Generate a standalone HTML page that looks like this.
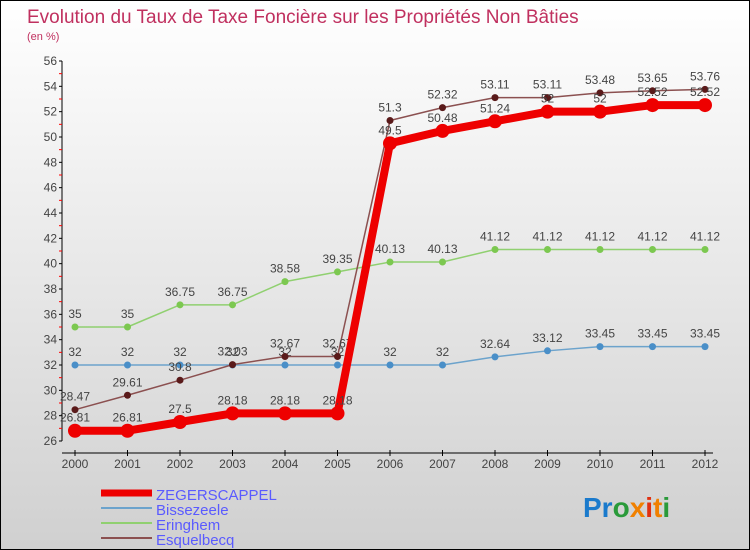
<!DOCTYPE html>
<html><head><meta charset="utf-8"><style>
body{margin:0}
#c{position:relative;width:748px;height:548px;border:1px solid #000;background:linear-gradient(#fff,#d0d0d0);font-family:"Liberation Sans",sans-serif;overflow:hidden}
</style></head><body>
<div id="c">
<svg id="s" width="748" height="548" xmlns="http://www.w3.org/2000/svg">
<text x="26" y="22" font-size="19" fill="#c0305f">Evolution du Taux de Taxe Foncière sur les Propriétés Non Bâties</text>
<text x="26" y="39" font-size="11" fill="#c0305f">(en %)</text>
<g id="axes"></g><g id="series"></g>
<g>
<line x1="100" y1="492" x2="151" y2="492" stroke="#e00" stroke-width="7"/>
<text x="155" y="499" font-size="15" fill="#5a5aff">ZEGERSCAPPEL</text>
<line x1="100" y1="507" x2="151" y2="507" stroke="#6ca3cc" stroke-width="2"/>
<text x="155" y="514" font-size="15" fill="#5a5aff">Bissezeele</text>
<line x1="100" y1="522" x2="151" y2="522" stroke="#90d070" stroke-width="2"/>
<text x="155" y="529" font-size="15" fill="#5a5aff">Eringhem</text>
<line x1="100" y1="537" x2="151" y2="537" stroke="#8b5050" stroke-width="2"/>
<text x="155" y="544" font-size="15" fill="#5a5aff">Esquelbecq</text>
</g>
<text x="582" y="516" font-size="28" font-weight="bold"><tspan fill="#1a7acc">Pr</tspan><tspan fill="#2a9a3a">o</tspan><tspan fill="#f08000">x</tspan><tspan fill="#e03010">i</tspan><tspan fill="#f08000">t</tspan><tspan fill="#2a9a3a">i</tspan></text>
</svg>
</div>
<script>
const years=[2000,2001,2002,2003,2004,2005,2006,2007,2008,2009,2010,2011,2012];
const yTicks=[26,28,30,32,34,36,38,40,42,44,46,48,50,52,54,56];
const zeg=[26.81,26.81,27.5,28.18,28.18,28.18,49.5,50.48,51.24,52,52,52.52,52.52];
const bis=[32,32,32,32,32,32,32,32,32.64,33.12,33.45,33.45,33.45];
const eri=[35,35,36.75,36.75,38.58,39.35,40.13,40.13,41.12,41.12,41.12,41.12,41.12];
const esq=[28.47,29.61,30.8,32.03,32.67,32.67,51.3,52.32,53.11,53.11,53.48,53.65,53.76];
const NS="http://www.w3.org/2000/svg";
const X=i=>74+52.5*i, Y=v=>440-(v-26)*12.667;
function mk(t,a,p){const e=document.createElementNS(NS,t);for(const k in a)e.setAttribute(k,a[k]);p.appendChild(e);return e;}
const ax=document.getElementById('axes'), sr=document.getElementById('series');
mk('line',{x1:61,y1:Y(56),x2:61,y2:Y(26),stroke:'#000'},ax);
mk('line',{x1:61,y1:452,x2:712,y2:452,stroke:'#000'},ax);
yTicks.forEach(v=>{
 mk('line',{x1:58,y1:Y(v),x2:61,y2:Y(v),stroke:'#000'},ax);
 if(v<56)mk('line',{x1:58,y1:Y(v+1),x2:61,y2:Y(v+1),stroke:'#f00'},ax);
 const t=mk('text',{x:56,y:Y(v)+4,'font-size':12,fill:'#444','text-anchor':'end'},ax);t.textContent=v;
 
 
});
years.forEach((y,i)=>{
 mk('line',{x1:X(i),y1:449,x2:X(i),y2:455,stroke:'#000'},ax);
 const t=mk('text',{x:X(i),y:467,'font-size':12,fill:'#444','text-anchor':'middle'},ax);t.textContent=y;
 
 
});
function draw(d,name,col,w,r,dot){
 const g=mk('g',{},sr);
 
 
 mk('polyline',{points:d.map((v,i)=>X(i)+','+Y(v)).join(' '),fill:'none',stroke:col,'stroke-width':w,'stroke-linejoin':'round'},g);
 d.forEach((v,i)=>{
  mk('circle',{cx:X(i),cy:Y(v),r:r,fill:dot},g);
  const t=mk('text',{x:X(i),y:Y(v)-9,'font-size':12,fill:'#444','text-anchor':'middle'},g);t.textContent=v;
 });
}
draw(bis,'series-bissezeele','#6ca3cc',1.5,3.5,'#4a8fc8');
draw(eri,'series-eringhem','#90d070',1.5,3.5,'#7cc850');
draw(esq,'series-esquelbecq','#8b5050',1.5,3.5,'#5a1a1a');
draw(zeg,'series-zegerscappel','#e00',8,7,'#e00');
</script>
</body></html>
